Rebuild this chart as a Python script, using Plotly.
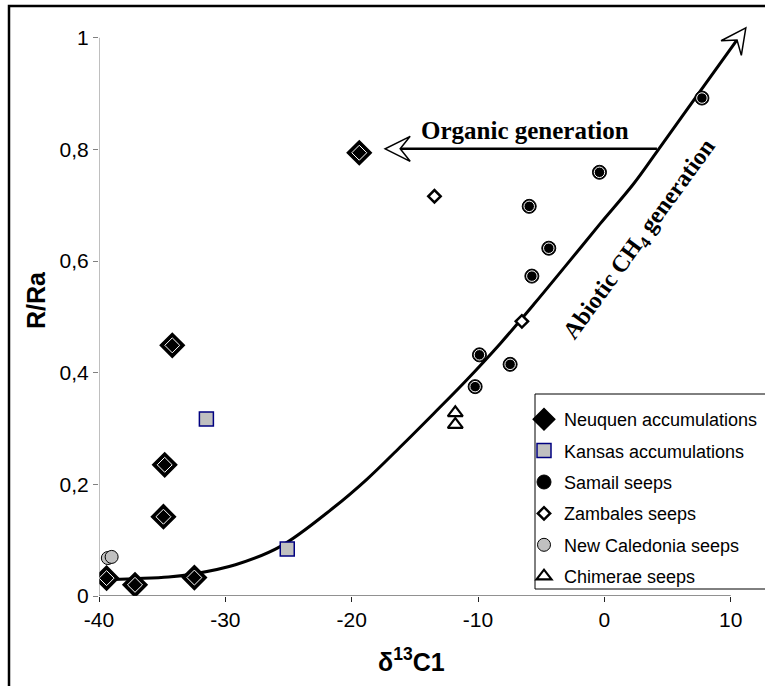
import math
import plotly.graph_objects as go

# ---------------- data ----------------
neuquen_x = [-19.4, -34.2, -34.8, -34.9, -39.4, -37.15, -32.45]
neuquen_y = [0.794, 0.449, 0.235, 0.142, 0.032, 0.020, 0.033]

kansas_x = [-31.5, -25.1]
kansas_y = [0.317, 0.084]

samail_x = [7.72, -0.39, -5.95, -4.4, -5.74, -9.89, -7.46, -10.23]
samail_y = [0.892, 0.759, 0.698, 0.623, 0.573, 0.432, 0.415, 0.375]

zambales_x = [-13.45, -6.53]
zambales_y = [0.716, 0.492]

newcal_x = [-39.3, -39.0]
newcal_y = [0.068, 0.070]

chimerae_x = [-11.8, -11.8]
chimerae_y = [0.328, 0.307]

# abiotic trend curve
curve_x = [-39.5, -37.15, -34.5, -32.4, -29.2, -25.7, -21.45, -18.8, -16.2, -13.5,
           -10.9, -8.25, -5.6, -2.97, -0.33, 2.3, 4.16, 7.6, 10.5]
curve_y = [0.029, 0.031, 0.034, 0.040, 0.056, 0.088, 0.158, 0.209, 0.266, 0.327,
           0.387, 0.452, 0.522, 0.594, 0.667, 0.738, 0.796, 0.905, 0.996]

# organic generation arrow (horizontal)
organic_y = 0.801
organic_x_start = 4.16
organic_x_tip = -17.35

x_ticks = [-40, -30, -20, -10, 0, 10]
x_ticktext = ["-40", "-30", "-20", "-10", "0", "10"]
y_ticks = [0, 0.2, 0.4, 0.6, 0.8, 1.0]
y_ticktext = ["0", "0,2", "0,4", "0,6", "0,8", "1"]

legend_names = ["Neuquen accumulations", "Kansas accumulations", "Samail seeps",
                "Zambales seeps", "New Caledonia seeps", "Chimerae seeps"]

# ---------------- layout geometry ----------------
W, H = 765, 686
XR = [-40, 12]
YR = [0, 1.03]
ML, MR, MT, MB = 99, 9, 21, 90
PW = W - ML - MR
PH = H - MT - MB
px_per_x = PW / (XR[1] - XR[0])
px_per_y = PH / (YR[1] - YR[0])

SANS = "Liberation Sans, Arial, sans-serif"
SERIF = "Liberation Serif, Times New Roman, serif"

fig = go.Figure()

# curve
fig.add_trace(go.Scatter(x=curve_x, y=curve_y, mode="lines",
                         line=dict(color="black", width=3, shape="spline", smoothing=1.0),
                         showlegend=False, hoverinfo="skip"))

# Neuquen
fig.add_trace(go.Scatter(x=neuquen_x, y=neuquen_y, mode="markers", name=legend_names[0],
                         legendgroup="g1",
                         marker=dict(symbol="diamond", size=18, color="black",
                                     line=dict(color="black", width=2))))
fig.add_trace(go.Scatter(x=neuquen_x, y=neuquen_y, mode="markers", showlegend=False,
                         legendgroup="g1", hoverinfo="skip",
                         marker=dict(symbol="diamond-open", size=11.5, color="white",
                                     line=dict(color="white", width=1))))
# Kansas
fig.add_trace(go.Scatter(x=kansas_x, y=kansas_y, mode="markers", name=legend_names[1],
                         legendgroup="g2",
                         marker=dict(symbol="square", size=14, color="#c0c0c0",
                                     line=dict(color="#000080", width=1.5))))
# Samail
fig.add_trace(go.Scatter(x=samail_x, y=samail_y, mode="markers", name=legend_names[2],
                         legendgroup="g3",
                         marker=dict(symbol="circle", size=14, color="black",
                                     line=dict(color="black", width=1))))
fig.add_trace(go.Scatter(x=samail_x, y=samail_y, mode="markers", showlegend=False,
                         legendgroup="g3", hoverinfo="skip",
                         marker=dict(symbol="circle-open", size=10.5, color="white",
                                     line=dict(color="white", width=1))))
# Zambales
fig.add_trace(go.Scatter(x=zambales_x, y=zambales_y, mode="markers", name=legend_names[3],
                         legendgroup="g4",
                         marker=dict(symbol="diamond", size=9.5, color="white",
                                     line=dict(color="black", width=2.5))))
# New Caledonia
fig.add_trace(go.Scatter(x=newcal_x, y=newcal_y, mode="markers", name=legend_names[4],
                         legendgroup="g5",
                         marker=dict(symbol="circle", size=13, color="#c0c0c0",
                                     line=dict(color="black", width=1))))
# Chimerae
fig.add_trace(go.Scatter(x=chimerae_x, y=chimerae_y, mode="markers", name=legend_names[5],
                         legendgroup="g6",
                         marker=dict(symbol="triangle-up", size=13, color="white",
                                     line=dict(color="black", width=2.2))))

shapes = []

# axis lines
shapes.append(dict(type="line", xref="x", yref="y", x0=XR[0], x1=10, y0=0, y1=0,
                   line=dict(color="#222222", width=1)))
shapes.append(dict(type="line", xref="x", yref="y", x0=XR[0], x1=XR[0], y0=0, y1=1,
                   line=dict(color="#808080", width=1)))

# organic generation arrow shaft
AL, AW, AN = 25, 12.5, 15   # arrow length, half width, notch depth (px)
shapes.append(dict(type="line", xref="x", yref="y",
                   x0=organic_x_start, x1=organic_x_tip + AN / px_per_x,
                   y0=organic_y, y1=organic_y, line=dict(color="black", width=2.5)))


def head_path(angle_deg):
    a = math.radians(angle_deg)
    ux, uy = math.cos(a), math.sin(a)      # direction of the arrow
    vx, vy = -uy, ux                       # perpendicular
    pts = [(0, 0),
           (-AL * ux + AW * vx, -AL * uy + AW * vy),
           (-AN * ux, -AN * uy),
           (-AL * ux - AW * vx, -AL * uy - AW * vy)]
    return "M" + " L".join(f"{x:.2f},{y:.2f}" for x, y in pts) + " Z"


# horizontal arrowhead (pointing left)
shapes.append(dict(type="path", xref="x", yref="y", xsizemode="pixel", ysizemode="pixel",
                   xanchor=organic_x_tip, yanchor=organic_y, path=head_path(180),
                   fillcolor="white", line=dict(color="black", width=1.5)))

# diagonal arrowhead at end of the curve
p1x = curve_x[-2] * px_per_x
p1y = curve_y[-2] * px_per_y
p2x = curve_x[-1] * px_per_x
p2y = curve_y[-1] * px_per_y
ang = math.degrees(math.atan2(p2y - p1y, p2x - p1x))
tip_x = curve_x[-1] + AN * math.cos(math.radians(ang)) / px_per_x
tip_y = curve_y[-1] + AN * math.sin(math.radians(ang)) / px_per_y
shapes.append(dict(type="path", xref="x", yref="y", xsizemode="pixel", ysizemode="pixel",
                   xanchor=tip_x, yanchor=tip_y, path=head_path(ang),
                   fillcolor="white", line=dict(color="black", width=1.5)))


def px2paper_x(px):
    return (px - ML) / PW


def px2paper_y(py):
    return (H - MB - py) / PH


# legend box
shapes.append(dict(type="rect", xref="paper", yref="paper",
                   x0=px2paper_x(535), x1=px2paper_x(780),
                   y0=px2paper_y(589), y1=px2paper_y(394),
                   line=dict(color="black", width=1), fillcolor="white", layer="above"))
# outer frame
shapes.append(dict(type="rect", xref="paper", yref="paper",
                   x0=px2paper_x(9), x1=px2paper_x(790),
                   y0=px2paper_y(700), y1=px2paper_y(6),
                   line=dict(color="black", width=2.5), fillcolor="rgba(0,0,0,0)"))

annotations = [
    dict(text="<b>Organic generation</b>", x=-6.27, y=0.833, xref="x", yref="y",
         xanchor="center", yanchor="middle",
         showarrow=False, font=dict(family=SERIF, size=25, color="black")),
    dict(text="<b>Abiotic CH<sub>4</sub> generation</b>", x=2.83, y=0.638, xref="x", yref="y",
         xanchor="center", yanchor="middle",
         showarrow=False, textangle=-54, font=dict(family=SERIF, size=24, color="black")),
    dict(text="<b>R/Ra</b>", x=px2paper_x(36), y=px2paper_y(300), xref="paper", yref="paper",
         xanchor="center", yanchor="middle",
         showarrow=False, textangle=-90, font=dict(family=SANS, size=25, color="black")),
    dict(text="<b>δ<sup>13</sup>C1</b>", x=px2paper_x(411), y=px2paper_y(660),
         xref="paper", yref="paper", showarrow=False, xanchor="center", yanchor="middle",
         font=dict(family=SANS, size=25, color="black")),
]

fig.update_layout(
    width=W, height=H,
    margin=dict(l=ML, r=MR, t=MT, b=MB, autoexpand=False),
    paper_bgcolor="white", plot_bgcolor="white",
    showlegend=True,
    legend=dict(x=px2paper_x(524), y=px2paper_y(401), xanchor="left", yanchor="top",
                bgcolor="rgba(0,0,0,0)", borderwidth=0, tracegroupgap=5,
                font=dict(family=SANS, size=18, color="black")),
    shapes=shapes, annotations=annotations,
    xaxis=dict(range=XR, showgrid=False, zeroline=False, showline=False,
               tickmode="array", tickvals=x_ticks, ticktext=x_ticktext,
               ticks="outside", ticklen=5, tickcolor="#222222",
               tickfont=dict(family=SANS, size=21, color="black")),
    yaxis=dict(range=YR, showgrid=False, zeroline=False, showline=False,
               tickmode="array", tickvals=y_ticks, ticktext=y_ticktext,
               ticks="outside", ticklen=5, tickcolor="#808080",
               tickfont=dict(family=SANS, size=21, color="black")),
    hovermode=False,
)

fig.write_html("out.html", config={"displayModeBar": False},
               post_script="document.body.style.margin='0';")
